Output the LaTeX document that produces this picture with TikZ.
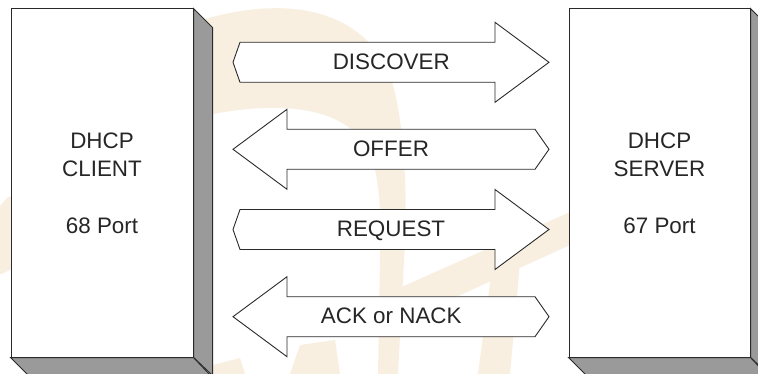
\documentclass[tikz,border=0pt]{standalone}
\usepackage{fontspec}
\setmainfont{Liberation Sans}
\newcommand\msgfont{\fontsize{22.4}{28.3}\selectfont}
\definecolor{sidegray}{HTML}{9A9A9A}
\definecolor{wmbeige}{HTML}{F8EFE1}
\definecolor{edge}{HTML}{2A2A2A}
\tikzset{
  arrowshape/.style={draw=edge, fill=white, line width=0.9pt, line join=miter},
  msg/.style={font=\msgfont, inner sep=0pt, anchor=base, text=black!85},
  box/.style={draw=edge, fill=white, line width=1pt, minimum height=348pt,
    inner sep=0pt, align=center, font=\msgfont, text=black!85},
  side/.style={draw=edge, fill=sidegray, line width=1pt, line join=miter},
  wm/.style={draw=none},
}
\begin{document}
\begin{tikzpicture}[x=1pt,y=-1pt]
\useasboundingbox (0,0) rectangle (758,374);
\fill[white] (0,0) rectangle (758,374);
% faint watermark
\fill[wm, wmbeige] (195,22) .. controls (280,-5) and (360,5) .. (390,75)
  .. controls (405,120) and (408,200) .. (404,260) -- (398,374) -- (378,374)
  -- (380,260) .. controls (382,200) and (378,160) .. (362,140)
  .. controls (335,105) and (270,100) .. (195,118) -- cycle;
\fill[wm, wmbeige] (395,290) -- (570,212) -- (570,245) -- (410,318) -- cycle;
\fill[wm, wmbeige] (478,374) -- (492,268) -- (520,262) -- (510,374) -- cycle;
\fill[wm, wmbeige] (290,374) -- (300,345) -- (335,340) -- (340,374) -- cycle;
\fill[wm, wmbeige] (213,374) -- (213,365) -- (240,358) -- (245,374) -- cycle;
\fill[wm, wmbeige] (0,206) -- (8,197) -- (14,197) -- (14,268) -- (2,274) -- (0,274) -- cycle;
% client box
\node[box, minimum width=182pt] (client) at (102,183) {DHCP\\CLIENT\\[28.3pt]68 Port};
\draw[side] (client.north east) -- ++(19,19) -- ++(0,348) -- (client.south east) -- cycle;
\draw[side] (client.south west) -- ++(19,19) -- ++(182,0) -- (client.south east) -- cycle;
% server box
\node[box, minimum width=181pt] (server) at (659.5,183) {DHCP\\SERVER\\[28.3pt]67 Port};
\draw[side] (server.north east) -- ++(19,19) -- ++(0,348) -- (server.south east) -- cycle;
\draw[side] (server.south west) -- ++(19,19) -- ++(181,0) -- (server.south east) -- cycle;
% DISCOVER (right)
\begin{scope}[shift={(0,62.3)}]
\draw[arrowshape] (233,0) -- (240,-20) -- (495,-20) -- (495,-40) -- (549,0)
  -- (495,40) -- (495,20) -- (240,20) -- cycle;
\end{scope}
\node[msg] (discover) at (391.3,70) {DISCOVER};
% OFFER (left)
\begin{scope}[shift={(0,149.3)}]
\draw[arrowshape] (233,0) -- (287,-40) -- (287,-20) -- (535,-20) -- (549,0)
  -- (535,20) -- (287,20) -- (287,40) -- cycle;
\end{scope}
\node[msg] (offer) at (391,156.7) {OFFER};
% REQUEST (right)
\begin{scope}[shift={(0,229.5)}]
\draw[arrowshape] (233,0) -- (240,-20) -- (495,-20) -- (495,-40) -- (549,0)
  -- (495,40) -- (495,20) -- (240,20) -- cycle;
\end{scope}
\node[msg] (request) at (391,236.7) {REQUEST};
% ACK or NACK (left)
\begin{scope}[shift={(0,316.7)}]
\draw[arrowshape] (233,0) -- (287,-40) -- (287,-20) -- (535,-20) -- (549,0)
  -- (535,20) -- (287,20) -- (287,40) -- cycle;
\end{scope}
\node[msg] (ack) at (391.3,323.3) {ACK or NACK};
\end{tikzpicture}
\end{document}
